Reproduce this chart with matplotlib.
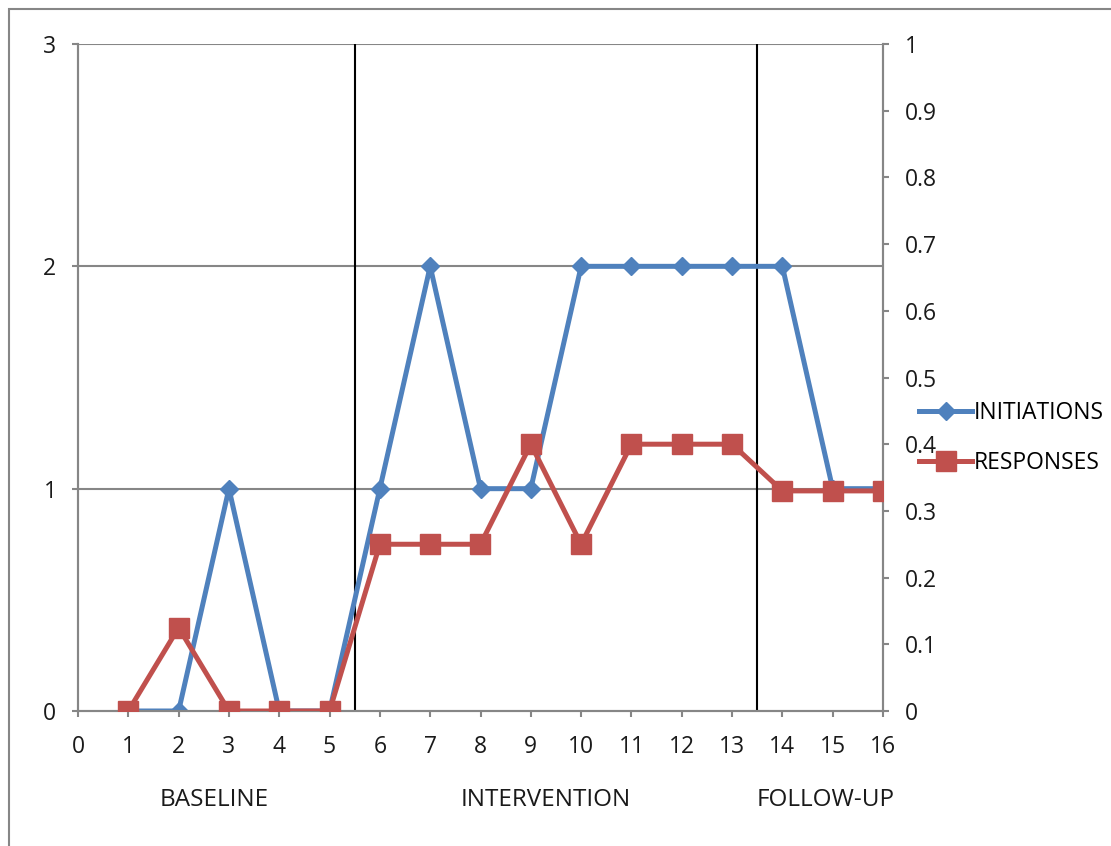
import matplotlib
matplotlib.use("Agg")
import matplotlib.pyplot as plt
from matplotlib.patches import Rectangle

plt.rcParams['font.family'] = ['Open Sans', 'DejaVu Sans']

sessions = list(range(1, 17))
initiations = [0, 0, 1, 0, 0, 1, 2, 1, 1, 2, 2, 2, 2, 2, 1, 1]
responses = [0, 0.125, 0, 0, 0, 0.25, 0.25, 0.25, 0.4, 0.25, 0.4, 0.4, 0.4, 0.33, 0.33, 0.33]
phase_lines = [5.5, 13.5]
phase_labels = ["BASELINE", "INTERVENTION", "FOLLOW-UP"]
phase_label_x = [2.7, 9.3, 14.85]

blue = "#4F81BD"
red = "#C0504D"
gray = "#868686"

fig = plt.figure(figsize=(11.11, 8.46), dpi=100)
fig.patches.append(Rectangle((9/1111, -0.1), 1.2, 1.1 - 9/846, transform=fig.transFigure,
                             fill=False, edgecolor=gray, linewidth=1.5))

ax = fig.add_axes([78/1111, 1 - 711/846, 805/1111, 667/846])
ax2 = ax.twinx()

ax.set_xlim(0, 16)
ax.set_ylim(0, 3)
ax2.set_ylim(0, 1)
ax.set_xticks(range(0, 17))
ax.set_yticks([0, 1, 2, 3])
ax2.set_yticks([i / 10 for i in range(11)])
ax2.set_yticklabels(["0"] + ["%.1f" % (i / 10) for i in range(1, 10)] + ["1"])

for y in [1, 2, 3]:
    ax.axhline(y, color=gray, linewidth=1.5, zorder=1)
for x in phase_lines:
    ax.axvline(x, color="black", linewidth=1.5, zorder=2)

for a in (ax, ax2):
    for s in a.spines.values():
        s.set_color(gray)
        s.set_linewidth(1.5)
    a.spines['top'].set_visible(False)
    a.tick_params(colors=gray, labelcolor="#1a1a1a", labelsize=16.5, width=1.5, length=4.5)
ax.tick_params(axis='x', pad=13)
ax.tick_params(axis='y', pad=11)
ax2.tick_params(axis='y', pad=11)

l1, = ax.plot(sessions, initiations, color=blue, linewidth=3.6, marker="D",
              markersize=9, zorder=3, label="INITIATIONS")
l2, = ax2.plot(sessions, responses, color=red, linewidth=3.6, marker="s",
               markersize=14.5, zorder=3, label="RESPONSES")

for lx, lab in zip(phase_label_x, phase_labels):
    ax.text(lx, -0.4, lab, ha="center", va="center", fontsize=17.5, color="#1a1a1a")

fig.legend([l1, l2], ["INITIATIONS", "RESPONSES"], loc="center left",
           bbox_to_anchor=(910/1111, 1 - 438/846), frameon=False, fontsize=16.5,
           handlelength=2.3, handletextpad=0.1, labelspacing=1.1, borderaxespad=0)

fig.savefig("out.png", dpi=100)
